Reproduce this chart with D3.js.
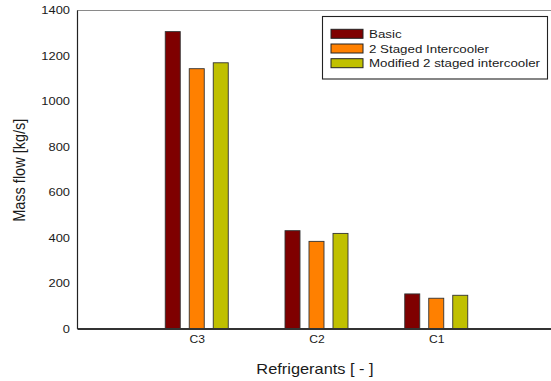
<!DOCTYPE html>
<html>
<head>
<meta charset="utf-8">
<script src="https://cdn.jsdelivr.net/npm/d3@7"></script>
<style>
  html, body { margin: 0; padding: 0; background: #fff; }
  svg { display: block; font-family: "Liberation Sans", Arial, sans-serif; }
</style>
</head>
<body>
<svg id="chart" width="551" height="381"></svg>
<script>
// Refrigerant mass flow for three cycle configurations
const categories = ["C3", "C2", "C1"];
const seriesNames = ["Basic", "2 Staged Intercooler", "Modified 2 staged intercooler"];
const basicValues = [1305, 430, 152];
const stagedValues = [1142, 383, 133];
const modifiedValues = [1168, 418, 146];
const yTicks = [0, 200, 400, 600, 800, 1000, 1200, 1400];
const seriesColors = ["#7f0000", "#ff8000", "#c0c000"];

const seriesValues = [basicValues, stagedValues, modifiedValues];

const svg = d3.select("#chart");
const plotLeft = 77, plotTop = 10, plotBottom = 328.5, plotRight = 556;
const FONT = "'Liberation Sans', Arial, sans-serif";
const SX = 1.17; // slightly widened lettering

const x = d3.scalePoint().domain(categories).range([plotLeft, plotRight]).padding(1);
const xs = d3.scaleBand().domain(seriesNames).range([-31.5, 31.5]).paddingInner(0.375).paddingOuter(0);
const y = d3.scaleLinear().domain([0, 1400]).range([plotBottom, plotTop]);

// Wide text placed at (px, py)
function wideText(parent, px, py, str, size, anchor) {
  return parent.append("g").attr("transform", `translate(${px},${py}) scale(${SX},1)`)
    .append("text").attr("text-anchor", anchor || "start")
    .attr("font-size", size).attr("font-family", FONT).attr("fill", "#1a1a1a")
    .text(str);
}

// Top frame line
svg.append("line")
  .attr("x1", plotLeft).attr("x2", 551).attr("y1", plotTop + 0.5).attr("y2", plotTop + 0.5)
  .attr("stroke", "#8a8a8a").attr("stroke-width", 1.2);

// Bars
const rows = [];
categories.forEach((c, i) => {
  seriesNames.forEach((s, j) => rows.push({ c, s, v: seriesValues[j][i], color: seriesColors[j] }));
});
svg.append("g").selectAll("rect").data(rows).join("rect")
  .attr("x", d => x(d.c) + xs(d.s))
  .attr("y", d => y(d.v))
  .attr("width", xs.bandwidth())
  .attr("height", d => y(0) - y(d.v))
  .attr("fill", d => d.color)
  .attr("stroke", "#333")
  .attr("stroke-width", 0.9);

// Y axis
const yAxis = svg.append("g").attr("transform", `translate(${plotLeft},0)`)
  .call(d3.axisLeft(y).tickValues(yTicks).tickSize(0).tickPadding(6).tickFormat(d3.format("d")));
yAxis.select(".domain").attr("stroke", "#222").attr("stroke-width", 1.2);
yAxis.selectAll("text").attr("font-size", 11).attr("fill", "#1a1a1a")
  .attr("font-family", FONT).attr("transform", `scale(${SX},1)`);

// X axis
const xAxis = svg.append("g").attr("transform", `translate(0,${plotBottom})`)
  .call(d3.axisBottom(x).tickSize(0).tickPadding(7));
xAxis.select(".domain").attr("stroke", "#333").attr("stroke-width", 2);
xAxis.selectAll("text").attr("font-size", 11).attr("fill", "#1a1a1a")
  .attr("font-family", FONT).attr("transform", `scale(1.1,1)`);

// Axis titles
svg.append("text")
  .attr("transform", `translate(25,${(plotTop + plotBottom) / 2 + 1}) rotate(-90) scale(1,${SX * 0.92})`)
  .attr("text-anchor", "middle").attr("font-size", 14.5).attr("font-family", FONT).attr("fill", "#1a1a1a")
  .text("Mass flow [kg/s]");
wideText(svg, 315, 374, "Refrigerants [ - ]", 14, "middle");

// Legend
const legend = svg.append("g");
legend.append("rect")
  .attr("x", 322.5).attr("y", 16.5).attr("width", 225).attr("height", 62.5)
  .attr("fill", "#fff").attr("stroke", "#222").attr("stroke-width", 1.1);
seriesNames.forEach((s, j) => {
  const cy = 33.8 + j * 14.7;
  legend.append("rect")
    .attr("x", 331).attr("y", cy - 4.5).attr("width", 32).attr("height", 9)
    .attr("fill", seriesColors[j]).attr("stroke", "#222").attr("stroke-width", 1);
  wideText(legend, 369, cy + 4, s, 11.4, "start");
});
</script>
</body>
</html>
